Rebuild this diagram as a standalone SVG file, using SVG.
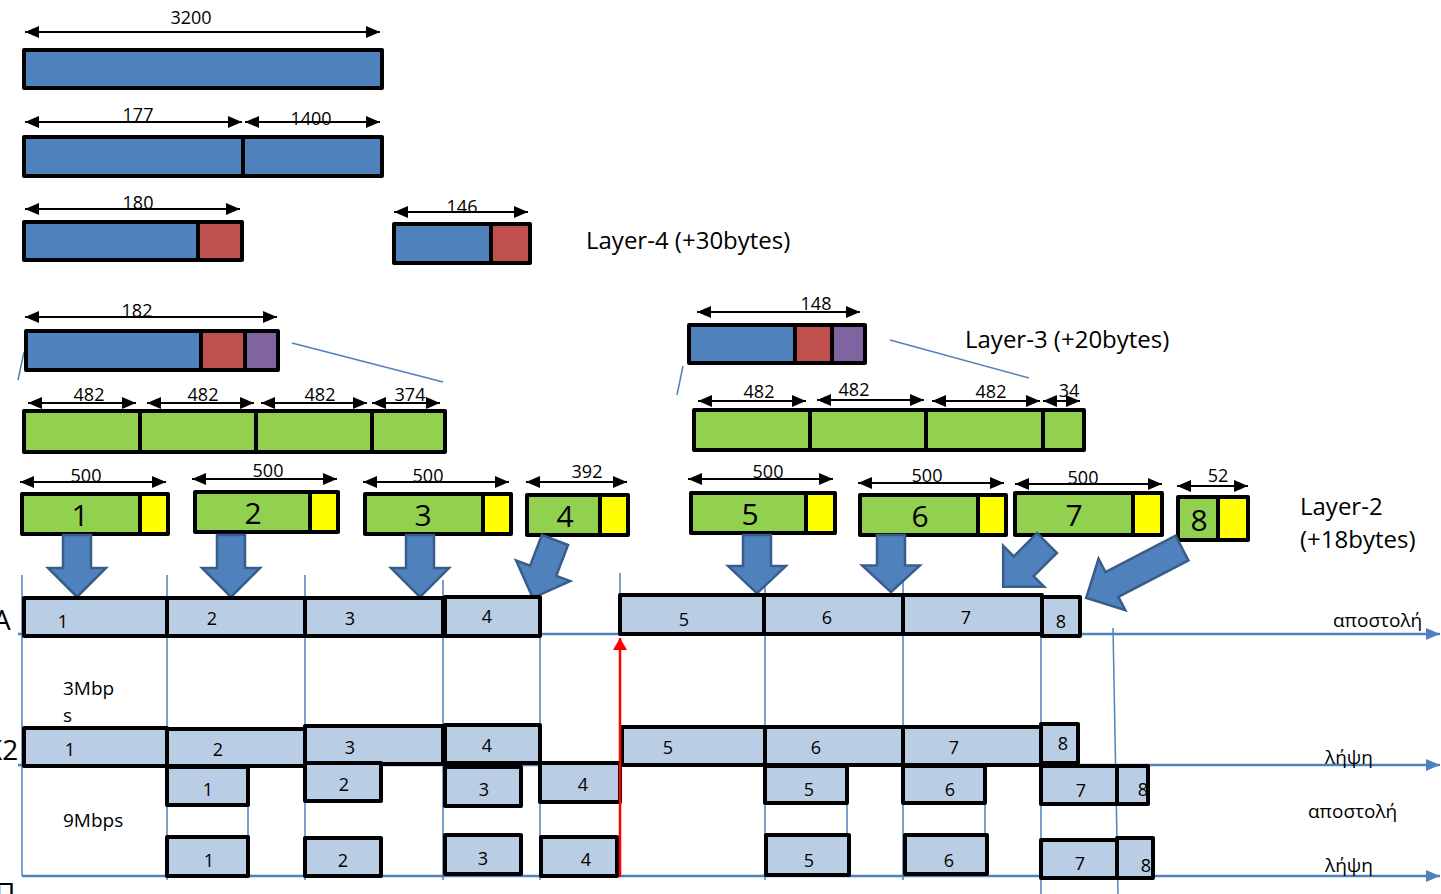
<svg xmlns="http://www.w3.org/2000/svg" width="1441" height="894" viewBox="0 0 1441 894">
<style>
text{font-family:"Open Sans","Liberation Sans",Arial,sans-serif;fill:#000}
.dl{font-size:18px;text-anchor:middle}
.big{font-size:30px;text-anchor:middle}
.tl{font-size:18px;text-anchor:middle}
.lbl{font-size:24px}
.gr{font-size:19px}
.edge{font-size:28px}
.blue{fill:#4F81BD;stroke:#000;stroke-width:4;stroke-linejoin:round}
.red{fill:#C0504D;stroke:#000;stroke-width:4;stroke-linejoin:round}
.pur{fill:#8064A2;stroke:#000;stroke-width:4;stroke-linejoin:round}
.grn{fill:#92D050;stroke:#000;stroke-width:4;stroke-linejoin:round}
.yel{fill:#FFFF00;stroke:#000;stroke-width:4;stroke-linejoin:round}
.fr{fill:#B9CDE5;stroke:#000;stroke-width:4;stroke-linejoin:round}
.dim{stroke:#000;stroke-width:2;fill:none;marker-start:url(#ah);marker-end:url(#ah)}
.vl{stroke:#4F81BD;stroke-width:1.5;fill:none}
.ax{stroke:#4F81BD;stroke-width:2.5;fill:none}
.bar{fill:#4F81BD;stroke:#385D8A;stroke-width:2.5;stroke-linejoin:miter}
</style>
<defs>
<marker id="ah" viewBox="0 0 14 12" refX="14" refY="6" markerWidth="14" markerHeight="12" markerUnits="userSpaceOnUse" orient="auto-start-reverse"><path d="M0,0 L14,6 L0,12 Z" fill="#000"/></marker>
<marker id="bh" viewBox="0 0 14 12" refX="14" refY="6" markerWidth="14" markerHeight="12" markerUnits="userSpaceOnUse" orient="auto"><path d="M0,0 L14,6 L0,12 Z" fill="#4F81BD"/></marker>
<marker id="rh" viewBox="0 0 12 14" refX="12" refY="7" markerWidth="12" markerHeight="14" markerUnits="userSpaceOnUse" orient="auto"><path d="M0,0 L12,7 L0,14 Z" fill="#FF0000"/></marker>
<path id="dn" d="M-14,0 H14 V33 H29 L0,62 L-29,33 H-14 Z"/>
</defs>

<!-- connectors / guide lines / axes -->
<g id="connectors">
<line class="vl" x1="22" y1="575" x2="22" y2="876"/>
<line class="vl" x1="167" y1="575" x2="167" y2="880"/>
<line class="vl" x1="305" y1="575" x2="305" y2="880"/>
<line class="vl" x1="443" y1="580" x2="443" y2="880"/>
<line class="vl" x1="540" y1="595" x2="540" y2="880"/>
<line class="vl" x1="620" y1="573" x2="620" y2="600"/>
<line class="vl" x1="765" y1="578" x2="765" y2="880"/>
<line class="vl" x1="903" y1="578" x2="903" y2="880"/>
<line class="vl" x1="1041" y1="620" x2="1041" y2="894"/>
<line class="vl" x1="1113" y1="628" x2="1118" y2="894"/>
<line class="vl" x1="248" y1="785" x2="248" y2="840"/>
<line class="vl" x1="847" y1="783" x2="847" y2="837"/>
<line class="vl" x1="985" y1="783" x2="985" y2="837"/>
<line class="vl" x1="18" y1="380" x2="24" y2="352"/>
<line class="vl" x1="292" y1="343" x2="443" y2="382"/>
<line class="vl" x1="683" y1="366" x2="677" y2="395"/>
<line class="vl" x1="890" y1="340" x2="1029" y2="378"/>
<line class="ax" x1="18" y1="634" x2="1440" y2="634" marker-end="url(#bh)"/>
<line class="ax" x1="18" y1="765" x2="1440" y2="765" marker-end="url(#bh)"/>
<line class="ax" x1="22" y1="876" x2="1440" y2="876" marker-end="url(#bh)"/>
</g>

<!-- dimension arrows -->
<g id="dimensions">
<line class="dim" x1="25" y1="32" x2="380" y2="32"/>
<line class="dim" x1="25" y1="122" x2="242" y2="122"/>
<line class="dim" x1="245" y1="122" x2="380" y2="122"/>
<line class="dim" x1="25" y1="209" x2="240" y2="209"/>
<line class="dim" x1="394" y1="212" x2="528" y2="212"/>
<line class="dim" x1="25" y1="317" x2="277" y2="317"/>
<line class="dim" x1="28" y1="403" x2="136" y2="403"/>
<line class="dim" x1="147" y1="403" x2="254" y2="403"/>
<line class="dim" x1="261" y1="403" x2="367" y2="403"/>
<line class="dim" x1="372" y1="403" x2="440" y2="403"/>
<line class="dim" x1="697" y1="312" x2="860" y2="312"/>
<line class="dim" x1="698" y1="401" x2="806" y2="401"/>
<line class="dim" x1="817" y1="400" x2="924" y2="400"/>
<line class="dim" x1="932" y1="401" x2="1040" y2="401"/>
<line class="dim" x1="1043" y1="401" x2="1080" y2="401"/>
<line class="dim" x1="20" y1="482" x2="166" y2="482"/>
<line class="dim" x1="192" y1="479" x2="337" y2="479"/>
<line class="dim" x1="363" y1="482" x2="509" y2="482"/>
<line class="dim" x1="526" y1="482" x2="627" y2="482"/>
<line class="dim" x1="688" y1="479" x2="833" y2="479"/>
<line class="dim" x1="858" y1="483" x2="1004" y2="483"/>
<line class="dim" x1="1015" y1="484" x2="1162" y2="484"/>
<line class="dim" x1="1177" y1="486" x2="1248" y2="486"/>
<text class="dl" x="191" y="24">3200</text>
<text class="dl" x="138" y="121">177</text>
<text class="dl" x="126" y="148">0</text>
<text class="dl" x="311" y="125">1400</text>
<text class="dl" x="138" y="209">180</text>
<text class="dl" x="462" y="213">146</text>
<text class="dl" x="137" y="317">182</text>
<text class="dl" x="89" y="401">482</text>
<text class="dl" x="203" y="401">482</text>
<text class="dl" x="320" y="401">482</text>
<text class="dl" x="410" y="401">374</text>
<text class="dl" x="816" y="310">148</text>
<text class="dl" x="759" y="398">482</text>
<text class="dl" x="854" y="396">482</text>
<text class="dl" x="991" y="398">482</text>
<text class="dl" x="1069" y="397">34</text>
<text class="dl" x="86" y="482">500</text>
<text class="dl" x="268" y="477">500</text>
<text class="dl" x="428" y="482">500</text>
<text class="dl" x="587" y="478">392</text>
<text class="dl" x="768" y="478">500</text>
<text class="dl" x="927" y="482">500</text>
<text class="dl" x="1083" y="484">500</text>
<text class="dl" x="1218" y="482">52</text>
</g>

<!-- application data blocks -->
<g id="data-3200"><rect class="blue" x="24" y="50" width="358" height="38"/></g>
<g id="data-split"><rect class="blue" x="24" y="137" width="219" height="39"/><rect class="blue" x="243" y="137" width="139" height="39"/></g>
<g id="seg-180"><rect class="blue" x="24" y="222" width="174" height="38"/><rect class="red" x="198" y="222" width="44" height="38"/></g>
<g id="seg-146"><rect class="blue" x="394" y="224" width="97" height="39"/><rect class="red" x="491" y="224" width="39" height="39"/></g>
<g id="layer4-label"><text class="lbl" x="586" y="249">Layer-4 (+30bytes)</text></g>
<g id="pkt-182"><rect class="blue" x="26" y="331" width="175" height="39"/><rect class="red" x="201" y="331" width="44" height="39"/><rect class="pur" x="245" y="331" width="33" height="39"/></g>
<g id="pkt-148"><rect class="blue" x="689" y="325" width="106" height="38"/><rect class="red" x="795" y="325" width="37" height="38"/><rect class="pur" x="832" y="325" width="33" height="38"/></g>
<g id="layer3-label"><text class="lbl" x="965" y="348">Layer-3 (+20bytes)</text></g>
<g id="frag-left"><rect class="grn" x="24" y="411" width="116" height="41"/><rect class="grn" x="140" y="411" width="116" height="41"/><rect class="grn" x="256" y="411" width="116" height="41"/><rect class="grn" x="372" y="411" width="73" height="41"/></g>
<g id="frag-right"><rect class="grn" x="694" y="410" width="116" height="40"/><rect class="grn" x="810" y="410" width="116" height="40"/><rect class="grn" x="926" y="410" width="117" height="40"/><rect class="grn" x="1043" y="410" width="41" height="40"/></g>

<!-- layer 2 frames -->
<g id="f1"><rect class="grn" x="22" y="494" width="118" height="40"/><rect class="yel" x="140" y="494" width="28" height="40"/><text class="big" x="80" y="526">1</text></g>
<g id="f2"><rect class="grn" x="195" y="492" width="115" height="40"/><rect class="yel" x="310" y="492" width="28" height="40"/><text class="big" x="253" y="524">2</text></g>
<g id="f3"><rect class="grn" x="365" y="494" width="118" height="40"/><rect class="yel" x="483" y="494" width="28" height="40"/><text class="big" x="423" y="526">3</text></g>
<g id="f4"><rect class="grn" x="527" y="495" width="73" height="40"/><rect class="yel" x="600" y="495" width="28" height="40"/><text class="big" x="565" y="527">4</text></g>
<g id="f5"><rect class="grn" x="691" y="493" width="115" height="40"/><rect class="yel" x="806" y="493" width="29" height="40"/><text class="big" x="750" y="525">5</text></g>
<g id="f6"><rect class="grn" x="860" y="495" width="118" height="40"/><rect class="yel" x="978" y="495" width="28" height="40"/><text class="big" x="920" y="527">6</text></g>
<g id="f7"><rect class="grn" x="1015" y="493" width="118" height="42"/><rect class="yel" x="1133" y="493" width="29" height="42"/><text class="big" x="1074" y="526">7</text></g>
<g id="f8"><rect class="grn" x="1178" y="497" width="40" height="43"/><rect class="yel" x="1218" y="497" width="30" height="43"/><text class="big" x="1199" y="531">8</text></g>
<g id="layer2-label"><text class="lbl" x="1300" y="515">Layer-2</text><text class="lbl" x="1300" y="548">(+18bytes)</text></g>

<!-- block arrows -->
<g id="block-arrows">
<use href="#dn" class="bar" transform="translate(77,535)"/>
<use href="#dn" class="bar" transform="translate(231,535)"/>
<use href="#dn" class="bar" transform="translate(420,535)"/>
<use href="#dn" class="bar" transform="translate(555,540) rotate(21)"/>
<use href="#dn" class="bar" transform="translate(757,535) scale(1,0.94)"/>
<use href="#dn" class="bar" transform="translate(891,535) scale(1,0.92)"/>
<use href="#dn" class="bar" transform="translate(1047,543) rotate(45)"/>
<path class="bar" d="M-14,0 H14 V79 H29 L0,108 L-29,79 H-14 Z" transform="translate(1182,548) rotate(62.5)"/>
</g>

<!-- timeline A -->
<g id="rowA">
<rect class="fr" x="24" y="598" width="143" height="38"/><text class="tl" x="63" y="628">1</text>
<rect class="fr" x="167" y="598" width="138" height="38"/><text class="tl" x="212" y="625">2</text>
<rect class="fr" x="305" y="598" width="138" height="38"/><text class="tl" x="350" y="625">3</text>
<rect class="fr" x="445" y="597" width="95" height="39"/><text class="tl" x="487" y="623">4</text>
<rect class="fr" x="620" y="595" width="144" height="39"/><text class="tl" x="684" y="626">5</text>
<rect class="fr" x="764" y="595" width="139" height="39"/><text class="tl" x="827" y="624">6</text>
<rect class="fr" x="903" y="595" width="139" height="39"/><text class="tl" x="966" y="624">7</text>
<rect class="fr" x="1042" y="597" width="38" height="39"/><text class="tl" x="1061" y="628">8</text>
</g>
<!-- timeline X2 receive -->
<g id="rowX2">
<rect class="fr" x="24" y="728" width="143" height="38"/><text class="tl" x="70" y="756">1</text>
<rect class="fr" x="167" y="729" width="138" height="37"/><text class="tl" x="218" y="756">2</text>
<rect class="fr" x="305" y="726" width="138" height="38"/><text class="tl" x="350" y="754">3</text>
<rect class="fr" x="445" y="725" width="95" height="38"/><text class="tl" x="487" y="752">4</text>
<rect class="fr" x="622" y="727" width="143" height="38"/><text class="tl" x="668" y="754">5</text>
<rect class="fr" x="765" y="727" width="138" height="38"/><text class="tl" x="816" y="754">6</text>
<rect class="fr" x="903" y="727" width="138" height="38"/><text class="tl" x="954" y="754">7</text>
<rect class="fr" x="1041" y="724" width="37" height="39"/><text class="tl" x="1063" y="750">8</text>
</g>
<!-- timeline X2 send -->
<g id="rowX2send">
<rect class="fr" x="167" y="767" width="81" height="38"/><text class="tl" x="208" y="796">1</text>
<rect class="fr" x="305" y="763" width="76" height="38"/><text class="tl" x="344" y="791">2</text>
<rect class="fr" x="445" y="767" width="76" height="39"/><text class="tl" x="484" y="796">3</text>
<rect class="fr" x="540" y="763" width="80" height="39"/><text class="tl" x="583" y="791">4</text>
<rect class="fr" x="765" y="766" width="82" height="37"/><text class="tl" x="809" y="796">5</text>
<rect class="fr" x="903" y="766" width="82" height="37"/><text class="tl" x="950" y="796">6</text>
<rect class="fr" x="1041" y="766" width="76" height="38"/><text class="tl" x="1081" y="797">7</text>
<rect class="fr" x="1117" y="766" width="31" height="38"/><text class="tl" x="1143" y="796">8</text>
</g>
<!-- timeline Π receive -->
<g id="rowP">
<rect class="fr" x="167" y="837" width="81" height="39"/><text class="tl" x="209" y="867">1</text>
<rect class="fr" x="305" y="838" width="76" height="38"/><text class="tl" x="343" y="867">2</text>
<rect class="fr" x="445" y="835" width="76" height="39"/><text class="tl" x="483" y="865">3</text>
<rect class="fr" x="541" y="837" width="76" height="39"/><text class="tl" x="586" y="866">4</text>
<rect class="fr" x="766" y="835" width="83" height="40"/><text class="tl" x="809" y="867">5</text>
<rect class="fr" x="905" y="835" width="82" height="39"/><text class="tl" x="949" y="867">6</text>
<rect class="fr" x="1041" y="840" width="76" height="38"/><text class="tl" x="1080" y="870">7</text>
<rect class="fr" x="1117" y="838" width="36" height="40"/><text class="tl" x="1146" y="872">8</text>
</g>

<g id="red-marker"><line x1="620" y1="877" x2="620" y2="638" stroke="#FF0000" stroke-width="2.5" marker-end="url(#rh)"/></g>

<g id="labels">
<text class="gr" x="1333" y="627">αποστολή</text>
<text class="gr" x="1325" y="764">λήψη</text>
<text class="gr" x="1308" y="818">αποστολή</text>
<text class="gr" x="1325" y="872">λήψη</text>
<text class="gr" x="63" y="695">3Mbp</text>
<text class="gr" x="63" y="722">s</text>
<text class="gr" x="63" y="827">9Mbps</text>
<text class="edge" x="-7" y="630">A</text>
<text class="edge" x="-14" y="760">X2</text>
<text class="edge" x="-5" y="903">Π</text>
</g>
</svg>
